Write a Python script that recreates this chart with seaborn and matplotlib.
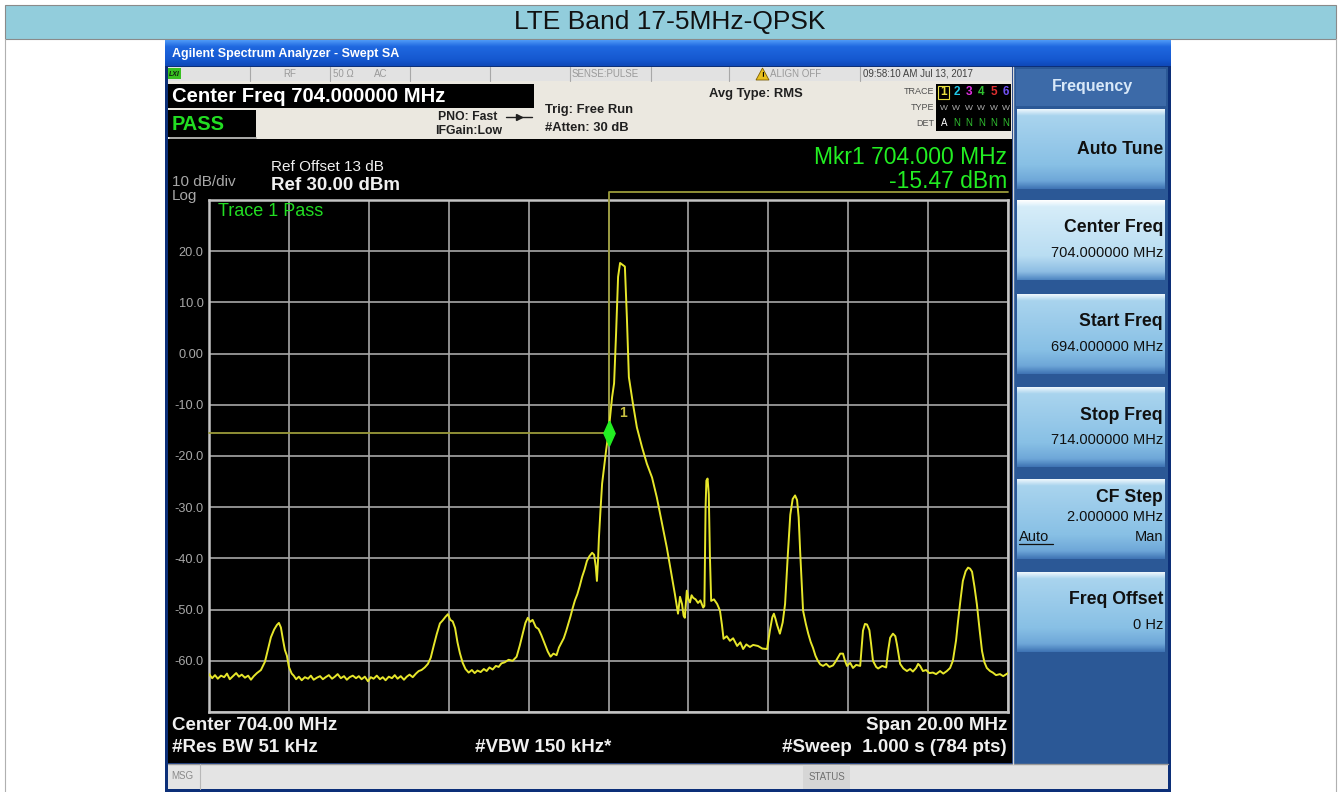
import numpy as np
import pandas as pd
import matplotlib
matplotlib.use("Agg")
import matplotlib.pyplot as plt
import matplotlib.patches as mpatches
from matplotlib.colors import LinearSegmentedColormap
import seaborn as sns

# ---------------------------------------------------------------- data
page_title = "LTE Band 17-5MHz-QPSK"
window_title = "Agilent Spectrum Analyzer - Swept SA"

# Trace 1 (MHz, dBm)
trace_freq_mhz = [
    694.00, 694.08, 694.15, 694.22, 694.30, 694.38, 694.45, 694.52,
    694.60, 694.68, 694.75, 694.82, 694.90, 694.98, 695.05, 695.12,
    695.20, 695.30, 695.40, 695.48, 695.55, 695.63, 695.70, 695.75,
    695.80, 695.85, 695.90, 695.95, 696.00, 696.07, 696.12, 696.18,
    696.25, 696.32, 696.40, 696.48, 696.55, 696.62, 696.70, 696.78,
    696.85, 696.92, 697.00, 697.08, 697.15, 697.22, 697.30, 697.38,
    697.45, 697.52, 697.60, 697.68, 697.75, 697.82, 697.90, 697.98,
    698.05, 698.12, 698.20, 698.28, 698.35, 698.42, 698.50, 698.58,
    698.65, 698.72, 698.80, 698.88, 698.95, 699.02, 699.10, 699.18,
    699.25, 699.32, 699.40, 699.48, 699.55, 699.62, 699.70, 699.78,
    699.85, 699.92, 699.98, 700.04, 700.10, 700.16, 700.22, 700.28,
    700.35, 700.42, 700.50, 700.58, 700.65, 700.72, 700.80, 700.88,
    700.95, 701.02, 701.10, 701.18, 701.25, 701.32, 701.40, 701.50,
    701.60, 701.70, 701.78, 701.85, 701.92, 701.98, 702.04, 702.10,
    702.18, 702.25, 702.32, 702.40, 702.48, 702.55, 702.62, 702.70,
    702.76, 702.82, 702.88, 702.94, 703.00, 703.05, 703.10, 703.16,
    703.22, 703.28, 703.34, 703.40, 703.46, 703.52, 703.59, 703.64,
    703.68, 703.71, 703.74, 703.76, 703.80, 703.84, 703.94, 704.00,
    704.09, 704.14, 704.19, 704.24, 704.29, 704.36, 704.41, 704.46,
    704.51, 704.61, 704.71, 704.84, 704.96, 705.09, 705.21, 705.34,
    705.46, 705.59, 705.66, 705.74, 705.79, 705.84, 705.88, 705.91,
    705.96, 706.00, 706.04, 706.08, 706.12, 706.18, 706.24, 706.30,
    706.37, 706.40, 706.43, 706.45, 706.48, 706.51, 706.54, 706.57,
    706.64, 706.72, 706.79, 706.84, 706.88, 706.96, 707.04, 707.12,
    707.22, 707.30, 707.37, 707.45, 707.54, 707.62, 707.74, 707.85,
    707.97, 708.04, 708.10, 708.14, 708.18, 708.22, 708.29, 708.36,
    708.42, 708.49, 708.55, 708.61, 708.67, 708.72, 708.76, 708.80,
    708.87, 708.94, 709.00, 709.06, 709.12, 709.18, 709.24, 709.30,
    709.37, 709.45, 709.53, 709.62, 709.68, 709.74, 709.80, 709.87,
    709.92, 709.97, 710.05, 710.12, 710.20, 710.30, 710.34, 710.37,
    710.42, 710.47, 710.53, 710.57, 710.62, 710.70, 710.75, 710.85,
    710.95, 711.00, 711.05, 711.12, 711.18, 711.22, 711.30, 711.38,
    711.47, 711.55, 711.62, 711.70, 711.75, 711.80, 711.87, 711.95,
    712.03, 712.12, 712.20, 712.30, 712.38, 712.47, 712.55, 712.62,
    712.70, 712.75, 712.82, 712.87, 712.94, 713.00, 713.05, 713.10,
    713.16, 713.22, 713.29, 713.35, 713.41, 713.47, 713.55, 713.62,
    713.70, 713.80, 713.88, 714.00,
]
trace_level_dbm = [
    -62.6, -63.4, -62.8, -63.5, -62.9, -63.2, -62.5, -63.6,
    -63.0, -62.4, -63.1, -62.7, -63.3, -62.9, -63.7, -63.0,
    -62.4, -61.8, -60.2, -57.6, -55.4, -53.9, -53.0, -52.6,
    -53.5, -55.8, -57.9, -59.0, -61.2, -62.5, -62.9, -63.6,
    -63.1, -63.8, -63.2, -63.5, -62.9, -63.7, -63.3, -63.0,
    -63.6, -63.2, -62.8, -63.5, -63.1, -62.6, -63.4, -63.0,
    -63.7, -63.2, -62.9, -63.4, -63.0, -63.6, -63.1, -64.0,
    -63.2, -63.5, -62.9, -63.6, -63.2, -63.8, -63.1, -63.4,
    -62.8, -63.5, -63.0, -63.7, -63.1, -62.7, -63.2, -62.5,
    -62.0, -61.8, -61.3, -60.6, -59.4, -57.2, -54.8, -52.7,
    -52.1, -51.4, -50.9, -52.0, -52.3, -53.6, -56.4, -58.5,
    -60.4, -61.6, -62.3, -61.8, -62.4, -61.9, -62.2, -61.6,
    -62.0, -61.3, -61.7, -61.0, -61.2, -60.5, -60.3, -59.8,
    -60.0, -59.2, -57.0, -54.8, -52.6, -51.6, -52.4, -52.0,
    -53.4, -53.8, -55.0, -56.6, -58.2, -59.2, -58.6, -58.9,
    -57.4, -56.5, -55.6, -54.2, -52.6, -51.3, -49.8, -48.2,
    -47.0, -45.4, -43.6, -42.2, -40.5, -39.6, -38.9, -39.3,
    -41.5, -44.4, -40.0, -36.0, -30.5, -25.4, -18.9, -15.47,
    -8.5, -5.8, 4.0, 15.0, 17.7, 17.3, 17.0, 7.1,
    -4.6, -9.7, -14.4, -18.3, -21.5, -24.2, -28.1, -33.2,
    -37.9, -43.8, -46.9, -50.8, -47.5, -48.9, -51.2, -51.6,
    -46.3, -48.0, -48.6, -47.2, -47.7, -48.0, -48.7, -48.2,
    -49.6, -49.3, -30.0, -24.8, -24.4, -27.5, -40.0, -48.3,
    -48.0, -48.9, -50.2, -53.0, -55.7, -55.2, -56.1, -55.6,
    -57.1, -56.4, -57.7, -56.8, -57.3, -56.9, -57.1, -57.6,
    -57.7, -54.1, -51.5, -50.8, -51.8, -53.0, -54.7, -52.5,
    -48.9, -39.1, -31.5, -28.4, -27.7, -28.6, -32.0, -39.1,
    -50.2, -52.8, -54.7, -56.3, -57.5, -59.0, -60.0, -60.7,
    -61.0, -60.6, -61.2, -60.9, -60.2, -59.4, -58.6, -58.6,
    -60.0, -61.0, -60.4, -61.4, -60.8, -61.0, -57.0, -54.1,
    -52.8, -52.9, -54.0, -56.5, -60.0, -61.2, -61.5, -61.0,
    -61.3, -58.0, -55.5, -54.7, -55.2, -56.8, -60.6, -61.5,
    -62.0, -61.6, -62.1, -61.4, -60.6, -61.0, -62.0, -61.8,
    -62.4, -62.3, -62.6, -62.0, -62.5, -62.0, -61.4, -60.0,
    -56.0, -52.2, -47.5, -44.4, -42.5, -41.8, -42.0, -42.6,
    -45.5, -48.9, -54.0, -58.1, -60.3, -61.4, -62.0, -62.3,
    -62.8, -62.6, -63.0, -62.4,
]

marker_freq_mhz = 704.000
marker_level_dbm = -15.47

start_mhz = 694.0
stop_mhz = 714.0
ref_level_dbm = 30.0
db_per_div = 10.0
n_div = 10
level_tick_labels = ["", "20.0", "10.0", "0.00", "-10.0", "-20.0",
                     "-30.0", "-40.0", "-50.0", "-60.0", ""]

softkey_titles = ["Auto Tune", "Center Freq", "Start Freq", "Stop Freq",
                  "CF Step", "Freq Offset"]
softkey_values = ["", "704.000000 MHz", "694.000000 MHz", "714.000000 MHz",
                  "2.000000 MHz", "0 Hz"]

trace_numbers = ["1", "2", "3", "4", "5", "6"]
trace_colors = ["#e8e040", "#20c8e8", "#e030e0", "#30c030", "#e03030", "#7050f0"]

# ---------------------------------------------------------------- figure
sns.set_theme(style="dark")
plt.rcParams["font.family"] = ["Liberation Sans", "DejaVu Sans"]

W, H = 1341, 792
fig = plt.figure(figsize=(W / 100, H / 100), dpi=100)
fig.patch.set_facecolor("white")

bg = fig.add_axes([0, 0, 1, 1])
bg.set_facecolor("white")
bg.axis("off")


def box(x0, y0, x1, y1, fc, ec="none", lw=0.0, z=1):
    bg.add_patch(mpatches.Rectangle((x0, y0), x1 - x0, y1 - y0, facecolor=fc,
                                    edgecolor=ec, linewidth=lw, zorder=z))


def grad(x0, y0, x1, y1, stops, z=1):
    cmap = LinearSegmentedColormap.from_list("g", stops)
    arr = np.linspace(0, 1, 128).reshape(-1, 1)
    bg.imshow(arr, cmap=cmap, aspect="auto", extent=(x0, x1, y1, y0),
              origin="upper", zorder=z, interpolation="bilinear")


def label(x, y, s, size, color, weight="normal", ha="left", va="center", z=5, **kw):
    bg.text(x, y, s, fontsize=size, color=color, fontweight=weight,
            ha=ha, va=va, zorder=z, **kw)


# page header bar
box(5, 5, 1336, 39, "#92cddc", ec="#8a8a8a", lw=0.8)
label(670, 22, page_title, 19, "#111111", ha="center")
bg.plot([5, 5], [39, 792], color="#b0b0b0", lw=0.8, zorder=1)
bg.plot([1336, 1336], [39, 792], color="#b0b0b0", lw=0.8, zorder=1)

# analyzer window frame and title bar
box(165, 40, 1171, 792, "#0c2f78")
grad(165, 40, 1171, 66, [(0, "#4f9af7"), (0.25, "#1f68e0"),
                         (0.75, "#1558d0"), (1, "#0e48b8")], z=2)
label(172, 54, window_title, 9, "white", weight="bold", z=3)

# status row
box(168, 67, 1012, 81, "#e2e2e2", z=2)
for xs in [250, 330, 410, 490, 570, 651, 729, 860]:
    bg.plot([xs, xs], [67, 81], color="#a8a8a8", lw=0.8, zorder=3)
box(168, 68, 181, 79, "#38c020", z=3)
label(169, 74, "LXI", 5, "#102010", weight="bold", style="italic", z=4)
label(290, 74, "RF", 7, "#9a9a9a", ha="center")
label(343, 74, "50 \u03a9", 7, "#9a9a9a", ha="center")
label(381, 74, "AC", 7, "#9a9a9a", ha="center")
label(572, 74, "SENSE:PULSE", 7, "#9a9a9a")
bg.add_patch(mpatches.Polygon([[756, 80], [769, 80], [762.5, 68]], closed=True,
                              facecolor="#e8c020", edgecolor="#806000", lw=0.6, zorder=3))
label(762.5, 75.5, "!", 6, "black", weight="bold", ha="center", z=4)
label(770, 74, "ALIGN OFF", 7, "#9a9a9a")
label(863, 74, "09:58:10 AM Jul 13, 2017", 7, "#404040")

# settings row
box(168, 81, 1012, 139, "#ebe8e0", z=2)
box(168, 84, 534, 108, "black", z=3)
label(172, 96, "Center Freq 704.000000 MHz", 14.6, "white", weight="bold", z=4)
box(168, 110, 256, 137, "black", z=3)
label(172, 124, "PASS", 14.4, "#22dd22", weight="bold", z=4)
bg.plot([170, 256], [138, 138], color="#9a9a9a", lw=1.2, zorder=4)
label(497, 117, "PNO: Fast", 8.8, "#202020", weight="bold", ha="right")
bg.plot([506, 532], [117, 117], color="#202020", lw=1.0, zorder=5)
bg.plot([519], [117], marker=">", color="#202020", markersize=4, zorder=5)
label(502, 131, "IFGain:Low", 8.8, "#202020", weight="bold", ha="right")
label(545, 110, "Trig: Free Run", 9.4, "#202020", weight="bold")
label(545, 128, "#Atten: 30 dB", 9.4, "#202020", weight="bold")
label(756, 94, "Avg Type: RMS", 9.4, "#202020", weight="bold", ha="center")
label(934, 91, "TRACE", 6.5, "#505050", ha="right")
label(934, 108, "TYPE", 6.5, "#505050", ha="right")
label(934, 123, "DET", 6.5, "#505050", ha="right")
box(936, 84, 1011, 131, "black", z=3)
for i, (num, col) in enumerate(zip(trace_numbers, trace_colors)):
    xc = 944 + i * 12.4
    label(xc, 92, num, 8.5, col, weight="bold", ha="center", z=5)
    label(xc, 108, "W", 6, "#b0b0b0", ha="center", z=5)
    label(xc, 123, "A" if i == 0 else "N", 7, "white" if i == 0 else "#30c030",
          ha="center", z=5)
bg.add_patch(mpatches.Rectangle((938.5, 85.5), 11, 13, facecolor="none",
                                edgecolor="#e8e040", lw=0.8, zorder=5))

# measurement screen
box(168, 139, 1012, 763, "black", z=2)
label(271, 167, "Ref Offset 13 dB", 11, "#f0f0f0", z=4)
label(271, 185, "Ref 30.00 dBm", 13.5, "#f0f0f0", weight="bold", z=4)
label(172, 182, "10 dB/div", 11, "#a8a8a8", z=4)
label(172, 196, "Log", 11, "#a8a8a8", z=4)
label(1007, 158, f"Mkr1 {marker_freq_mhz:.3f} MHz", 16.5, "#22ee22", ha="right", z=4)
label(1007, 181, f"{marker_level_dbm:.2f} dBm", 16.5, "#22ee22", ha="right", z=4)
label(172, 726, f"Center {(start_mhz + stop_mhz) / 2:.2f} MHz", 13.5, "#f0f0f0",
      weight="bold", z=4)
label(172, 747, "#Res BW 51 kHz", 13.5, "#f0f0f0", weight="bold", z=4)
label(543, 747, "#VBW 150 kHz*", 13.5, "#f0f0f0", weight="bold", ha="center", z=4)
label(1007, 726, f"Span {stop_mhz - start_mhz:.2f} MHz", 13.5, "#f0f0f0",
      weight="bold", ha="right", z=4)
label(1007, 747, "#Sweep  1.000 s (784 pts)", 13.5, "#f0f0f0", weight="bold",
      ha="right", z=4)

# message bar
box(168, 764, 1168, 789, "#e4e4e4", z=2)
bg.plot([168, 1168], [764, 764], color="#9a9a9a", lw=1.0, zorder=3)
bg.plot([200, 200], [764, 789], color="#b8b8b8", lw=0.8, zorder=3)
label(171, 776, "MSG", 7, "#8a8a8a", z=4)
box(803, 765, 850, 789, "#d6d6d6", z=3)
label(826.5, 777, "STATUS", 7, "#707070", ha="center", z=4)

# softkey panel
box(1013, 67, 1168, 764, "#2b5896", z=2)
bg.plot([1013, 1013], [67, 764], color="#d8d8d8", lw=1.0, zorder=3)
box(1016, 69, 1166, 106, "#3c6aa8", z=3)
label(1092, 87, "Frequency", 11.5, "#d8e8f8", weight="bold", ha="center", z=4)
key_tops = [109, 200, 294, 387, 479, 572]
key_h = 80
for k, (title, value) in enumerate(zip(softkey_titles, softkey_values)):
    y0 = key_tops[k]
    if k == 1:
        stops = [(0, "#ffffff"), (0.08, "#d6edf9"), (0.7, "#b9ddf2"),
                 (0.9, "#8dbde3"), (1, "#4f86c2")]
    else:
        stops = [(0, "#eef7fc"), (0.08, "#a9d4ee"), (0.7, "#88c0e5"),
                 (0.9, "#6ea7d8"), (1, "#3f74b4")]
    grad(1017, y0, 1165, y0 + key_h, stops, z=3)
    if value == "":
        label(1163, y0 + 40, title, 12.7, "#101010", weight="bold", ha="right", z=4)
    elif title == "CF Step":
        label(1163, y0 + 19, title, 12.7, "#101010", weight="bold", ha="right", z=4)
        label(1163, y0 + 38, value, 10.5, "#101010", ha="right", z=4)
        label(1019, y0 + 58, "Auto", 10.5, "#101010", z=4)
        bg.plot([1019, 1053], [y0 + 65, y0 + 65], color="#101010", lw=0.9, zorder=4)
        label(1163, y0 + 58, "Man", 10.5, "#101010", ha="right", z=4)
    else:
        label(1163, y0 + 28, title, 12.7, "#101010", weight="bold", ha="right", z=4)
        label(1163, y0 + 53, value, 10.5, "#101010", ha="right", z=4)

bg.set_xlim(0, W)
bg.set_ylim(H, 0)

# ---------------------------------------------------------------- spectrum
ax = fig.add_axes([209 / W, 1 - 712 / H, 799 / W, 512 / H])
ax.set_facecolor("black")
trace = pd.DataFrame({"freq": trace_freq_mhz, "level": trace_level_dbm})
sns.lineplot(data=trace, x="freq", y="level", ax=ax, color="#e6e62a",
             linewidth=1.4, estimator=None, sort=False, zorder=4)

freq_grid = np.linspace(start_mhz, stop_mhz, n_div + 1)
level_grid = ref_level_dbm - db_per_div * np.arange(n_div + 1)
ax.set_xlim(start_mhz, stop_mhz)
ax.set_ylim(level_grid[-1], level_grid[0])
ax.set_xticks(freq_grid)
ax.set_xticklabels([])
ax.set_yticks(level_grid)
ax.set_yticklabels(level_tick_labels)
ax.tick_params(axis="both", length=0, pad=4)
ax.tick_params(axis="y", labelcolor="#a8a8a8", labelsize=9.2)
ax.grid(True, color="#a8a8a8", linewidth=1.2, zorder=1)
ax.set_axisbelow(True)
ax.set_xlabel("")
ax.set_ylabel("")
for sp in ax.spines.values():
    sp.set_color("#c4c4c4")
    sp.set_linewidth(1.8)
    sp.set_visible(True)

# marker readout guide lines
guide_top = ref_level_dbm + 0.16 * db_per_div
ax.plot([start_mhz, marker_freq_mhz, marker_freq_mhz, stop_mhz],
        [marker_level_dbm, marker_level_dbm, guide_top, guide_top],
        color="#9a9a3a", linewidth=1.3, clip_on=False, zorder=3)
diamond = [(0, 1), (0.45, 0), (0, -1), (-0.45, 0), (0, 1)]
ax.plot([marker_freq_mhz], [marker_level_dbm], marker=diamond, markersize=18,
        color="#22ee22", linestyle="none", zorder=6, clip_on=False)
ax.annotate("1", xy=(marker_freq_mhz, marker_level_dbm), xytext=(8, 9),
            textcoords="offset points", color="#c8c040", fontsize=10,
            fontweight="bold", ha="left", va="bottom", zorder=6)
ax.text(0.011, 0.977, "Trace 1 Pass", transform=ax.transAxes, fontsize=13,
        color="#22dd22", ha="left", va="center", zorder=6)

fig.savefig("out.png", dpi=100, facecolor="white")
